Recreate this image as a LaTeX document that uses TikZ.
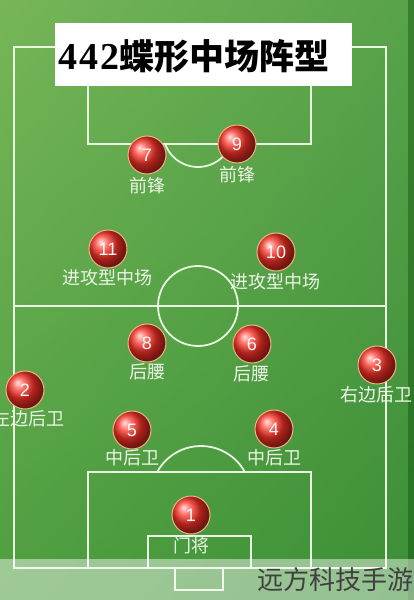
\documentclass[tikz,border=0pt]{standalone}
\usepackage{fontspec}
\usetikzlibrary{shadings}
\setmainfont{Liberation Sans}
\newfontfamily\cjk{Noto Sans CJK SC}
\newfontfamily\titleserif{Liberation Serif}
\definecolor{lineW}{RGB}{232,246,226}
\definecolor{labW}{RGB}{236,244,230}
\definecolor{gUL}{RGB}{118,182,88}
\definecolor{gUR}{RGB}{88,162,74}
\definecolor{gLL}{RGB}{78,158,64}
\definecolor{gLR}{RGB}{60,142,54}
\definecolor{ballC}{RGB}{250,50,38}
\definecolor{rimC}{RGB}{238,182,132}
\tikzset{
  fieldline/.style={draw=lineW, line width=1.8pt},
  player/.style={circle, minimum size=38pt, inner sep=0pt, ball color=ballC,
     draw=rimC, line width=1pt, text=white!90!pink,
     font=\fontsize{18}{18}\selectfont},
  role/.style={text=labW, inner sep=0pt, font=\cjk\fontsize{18}{18}\selectfont},
}
\begin{document}
\begin{tikzpicture}[x=1pt,y=-1pt]
\useasboundingbox (0,0) rectangle (414,600);
% background
\shade[upper left=gUL, upper right=gUR, lower left=gLL, lower right=gLR] (0,0) rectangle (414,600);
\fill[green!25!black, opacity=0.35] (408,0) rectangle (414,600);
% field lines
\draw[fieldline] (14,47) rectangle (386,568);
\draw[fieldline] (14,306) -- (386,306);
\draw[fieldline] (198,306) circle[radius=40];
\draw[fieldline] (88,40) -- (88,144) -- (311,144) -- (311,40);
\begin{scope}
  \clip (0,145) rectangle (414,200);
  \draw[fieldline] (198,132) circle[radius=35];
\end{scope}
\draw[fieldline] (88,568) -- (88,472) -- (311,472) -- (311,568);
\begin{scope}
  \clip (0,400) rectangle (414,471);
  \draw[fieldline] (201,496) circle[radius=50];
\end{scope}
\draw[fieldline] (148,568) -- (148,536) -- (251,536) -- (251,568);
\draw[fieldline] (175,568) -- (175,590) -- (223,590) -- (223,568);
% title
\node[fill=white, minimum width=297pt, minimum height=63pt, inner sep=0pt] (title) at (203.5,54.5) {};
\node[anchor=west, inner sep=0pt, text=black] (titletext) at (58,56)
  {\titleserif\bfseries\fontsize{38}{38}\selectfont 4\kern2pt 4\kern2pt 2\cjk\bfseries\fontsize{35}{35}\selectfont 蝶形中场阵型};
% players
\node[player] (p7) at (147,155) {7};
\node[player] (p9) at (237,144) {9};
\node[player] (p11) at (108,249) {11};
\node[player] (p10) at (276,252) {10};
\node[player] (p8) at (147,343) {8};
\node[player] (p6) at (252,344) {6};
\node[player] (p2) at (25,390) {2};
\node[player] (p3) at (377,365) {3};
\node[player] (p5) at (132,430) {5};
\node[player] (p4) at (274,429) {4};
\node[player] (p1) at (191,515) {1};
% roles
\node[role] (l7) at (147,186) {前锋};
\node[role] (l9) at (237,175) {前锋};
\node[role] (l11) at (107,278) {进攻型中场};
\node[role] (l10) at (275,282) {进攻型中场};
\node[role] (l8) at (147,372) {后腰};
\node[role] (l6) at (251,374) {后腰};
\node[role] (l2) at (28,419) {左边后卫};
\node[role] (l3) at (376,395) {右边后卫};
\node[role] (l5) at (132,458) {中后卫};
\node[role] (l4) at (274,458) {中后卫};
\node[role] (l1) at (191,546) {门将};
% watermark band
\fill[white, opacity=0.45] (0,559) rectangle (414,600);
\node[anchor=east, inner sep=0pt, text=black!75, font=\cjk\fontsize{26}{26}\selectfont] (wm) at (414,580) {远方科技手游};
\end{tikzpicture}
\end{document}
